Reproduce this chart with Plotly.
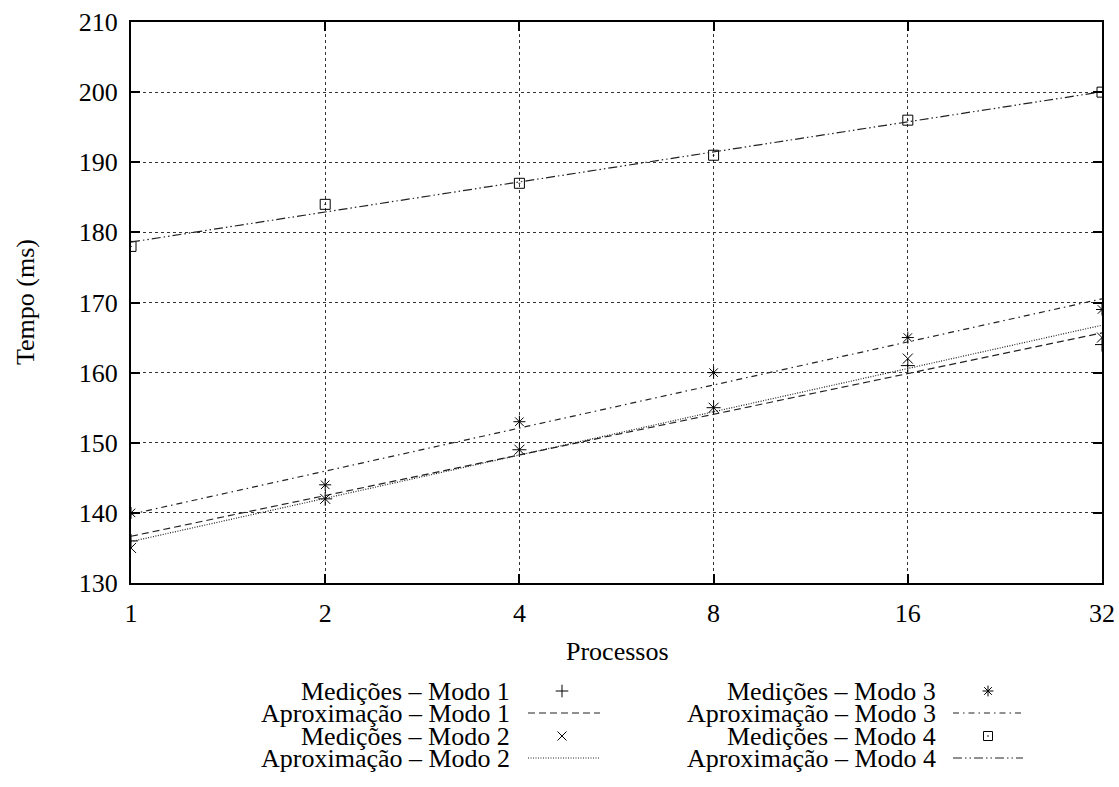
import numpy as np
import plotly.graph_objects as go

# ---- data ----
processos = [1, 2, 4, 8, 16, 32]
tick_labels = ["1", "2", "4", "8", "16", "32"]
modo1 = [136, 142, 149, 155, 161, 164]
modo2 = [135, 142, 149, 155, 162, 165]
modo3 = [140, 144, 153, 160, 165, 169]
modo4 = [178, 184, 187, 191, 196, 200]

series = [
    ("Modo 1", modo1),
    ("Modo 2", modo2),
    ("Modo 3", modo3),
    ("Modo 4", modo4),
]

# ---- styles ----
W, H = 1119, 787
FONT = "Liberation Serif, Tinos, Times New Roman, DejaVu Serif, serif"
FS = 26
symbols = ["cross-thin-open", "x-thin-open", "asterisk-open", "square-open-dot"]
dashes = ["7px,4px", "1px,1.5px", "6px,4px,1.5px,4px", "9px,3px,1.5px,3px,1.5px,3px"]

# plot area in window pixels
PL, PR, PT, PB = 131, 1102, 22, 583

def px_x(px):
    return px / W

def px_y(py):
    return (H - py) / H

fig = go.Figure()

xlog = np.log2(np.array(processos, dtype=float))
for (name, vals), sym, dash in zip(series, symbols, dashes):
    fig.add_trace(go.Scatter(
        x=processos, y=vals, mode="markers", name="Medições – " + name,
        marker=dict(symbol=sym, size=10, color="black",
                    line=dict(width=1, color="black")),
        showlegend=False, xaxis="x", yaxis="y",
    ))
    b, a = np.polyfit(xlog, np.array(vals, dtype=float), 1)
    fit = a + b * xlog
    fig.add_trace(go.Scatter(
        x=processos, y=fit, mode="lines", name="Aproximação – " + name,
        line=dict(color="#222", width=1.2, dash=dash),
        showlegend=False, xaxis="x", yaxis="y",
    ))

# ---- manual legend (layout positions in window pixels) ----
legend_cols = [dict(text_right=512, sym_x=562, line_x0=528, line_x1=600),
               dict(text_right=938, sym_x=988, line_x0=953, line_x1=1023)]
legend_rows = [691, 713, 736, 758]
annotations = []
for i, ((name, vals), sym, dash) in enumerate(zip(series, symbols, dashes)):
    col = legend_cols[i // 2]
    r0 = legend_rows[(i % 2) * 2]
    r1 = legend_rows[(i % 2) * 2 + 1]
    annotations.append(dict(text="Medições – " + name, x=px_x(col["text_right"]),
                            y=px_y(r0), xref="paper", yref="paper",
                            xanchor="right", yanchor="middle", showarrow=False,
                            font=dict(family=FONT, size=FS, color="black")))
    annotations.append(dict(text="Aproximação – " + name, x=px_x(col["text_right"]),
                            y=px_y(r1), xref="paper", yref="paper",
                            xanchor="right", yanchor="middle", showarrow=False,
                            font=dict(family=FONT, size=FS, color="black")))
    fig.add_trace(go.Scatter(
        x=[col["sym_x"]], y=[r0], mode="markers",
        marker=dict(symbol=sym, size=9, color="black",
                    line=dict(width=1, color="black")),
        showlegend=False, xaxis="x2", yaxis="y2", hoverinfo="skip",
    ))
    fig.add_trace(go.Scatter(
        x=[col["line_x0"], col["line_x1"]], y=[r1, r1],
        mode="lines", line=dict(color="#222", width=1.2, dash=dash),
        showlegend=False, xaxis="x2", yaxis="y2", hoverinfo="skip",
    ))

# axis titles
annotations.append(dict(text="Processos", x=px_x(617), y=px_y(651),
                        xref="paper", yref="paper", xanchor="center",
                        yanchor="middle", showarrow=False,
                        font=dict(family=FONT, size=FS, color="black")))
annotations.append(dict(text="Tempo (ms)", x=px_x(25), y=px_y(302),
                        xref="paper", yref="paper", xanchor="center",
                        yanchor="middle", showarrow=False, textangle=-90,
                        font=dict(family=FONT, size=FS, color="black")))

axis_common = dict(
    showline=True, linecolor="black", linewidth=2, mirror="ticks",
    ticks="inside", ticklen=9, tickwidth=1.5, tickcolor="black",
    showgrid=True, gridcolor="#333", gridwidth=1, griddash="dot",
    zeroline=False, automargin=False,
    tickfont=dict(family=FONT, size=FS, color="black"),
)

fig.update_layout(
    width=W, height=H,
    margin=dict(l=0, r=0, t=0, b=0),
    paper_bgcolor="white", plot_bgcolor="rgba(0,0,0,0)",
    font=dict(family=FONT, size=FS, color="black"),
    xaxis=dict(type="log", range=[0, np.log10(32)],
               tickvals=processos, ticktext=tick_labels,
               domain=[px_x(PL), px_x(PR)], anchor="y",
               ticklabelstandoff=6, **axis_common),
    yaxis=dict(range=[130, 210], dtick=10, tick0=130,
               domain=[px_y(PB), px_y(PT)], anchor="x",
               ticklabelstandoff=6, **axis_common),
    xaxis2=dict(domain=[0, 1], range=[0, W], visible=False, anchor="y2",
                fixedrange=True),
    yaxis2=dict(domain=[0, 1], range=[H, 0], visible=False, anchor="x2",
                fixedrange=True),
    annotations=annotations,
    showlegend=False,
)

fig.write_html(
    "out.html",
    config={"displayModeBar": False},
    post_script="document.body.style.margin='0';document.body.style.overflow='hidden';",
)
